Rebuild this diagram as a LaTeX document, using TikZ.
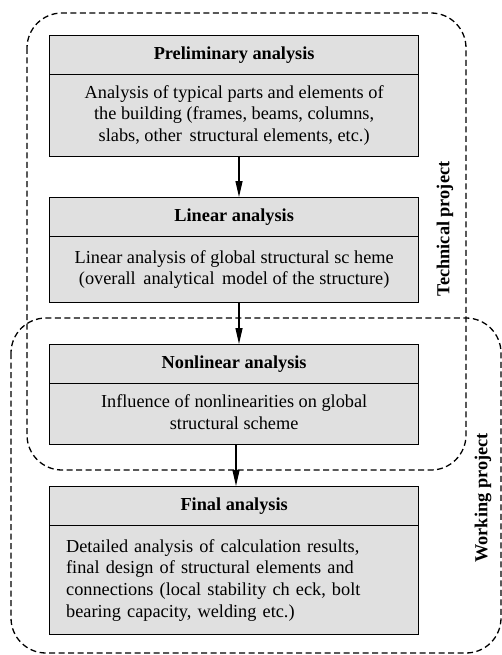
\documentclass[tikz,border=0pt]{standalone}
\usepackage{fontspec}
\setmainfont{Liberation Serif}
\usetikzlibrary{arrows.meta}
\definecolor{boxfill}{RGB}{224,224,224}
\tikzset{
  titlebox/.style={draw, line width=1.3pt, fill=boxfill, minimum width=369pt, minimum height=39pt, inner sep=0pt, font=\fontsize{18.3}{21.7}\selectfont\bfseries},
  bodybox/.style={draw, line width=1.3pt, fill=boxfill, minimum width=369pt, inner sep=0pt, font=\fontsize{18.3}{21.7}\selectfont},
  groupbox/.style={draw, line width=1.3pt, dash pattern=on 6pt off 3.5pt, rounded corners=35pt},
  flow/.style={line width=1.2pt, -{Triangle[length=16pt,width=7pt]}},
  grouplabel/.style={rotate=90, font=\fontsize{18.3}{20}\selectfont\bfseries}
}
\begin{document}
\begin{tikzpicture}[x=1pt,y=-1pt]
\useasboundingbox (0,0) rectangle (502,655);
% group frames
\draw[groupbox] (27,13) rectangle (466,470);
\draw[groupbox] (11,318) rectangle (501,653);
% box 1
\node[titlebox, anchor=north west] (t1) at (49,35) {Preliminary analysis};
\node[bodybox, anchor=north west, minimum height=82pt] (b1) at (49,74) {\begin{tabular}{@{}c@{}}Analysis of typical parts and elements of\\the building (frames, beams, columns,\\slabs, other\, structural elements, etc.)\end{tabular}};
% box 2
\node[titlebox, anchor=north west] (t2) at (49,197) {Linear analysis};
\node[bodybox, anchor=north west, minimum height=66pt] (b2) at (49,236) {\begin{tabular}{@{}c@{}}Linear analysis of global structural sc heme\\(overall\, analytical\, model of the structure)\end{tabular}};
% box 3
\node[titlebox, anchor=north west] (t3) at (49,344) {Nonlinear analysis};
\node[bodybox, anchor=north west, minimum height=61pt] (b3) at (49,383) {\begin{tabular}{@{}c@{}}Influence of nonlinearities on global\\structural scheme\end{tabular}};
% box 4
\node[titlebox, anchor=north west] (t4) at (49,486) {Final analysis};
\node[bodybox, anchor=north west, minimum height=109pt, align=left, text width=336pt] (b4) at (49,525) {Detailed analysis of calculation results,\\final design of structural elements and\\connections (local stability ch eck, bolt\\bearing capacity, welding etc.)};
% arrows
\draw[flow] (b1.south -| 239,0) -- (t2.north -| 239,0);
\draw[flow] (b2.south -| 239,0) -- (t3.north -| 239,0);
\draw[flow] (b3.south -| 236,0) -- (t4.north -| 236,0);
% labels
\node[grouplabel] (lt) at (445,229) {Technical project};
\node[grouplabel] (lw) at (483,498) {Working project};
\end{tikzpicture}
\end{document}
